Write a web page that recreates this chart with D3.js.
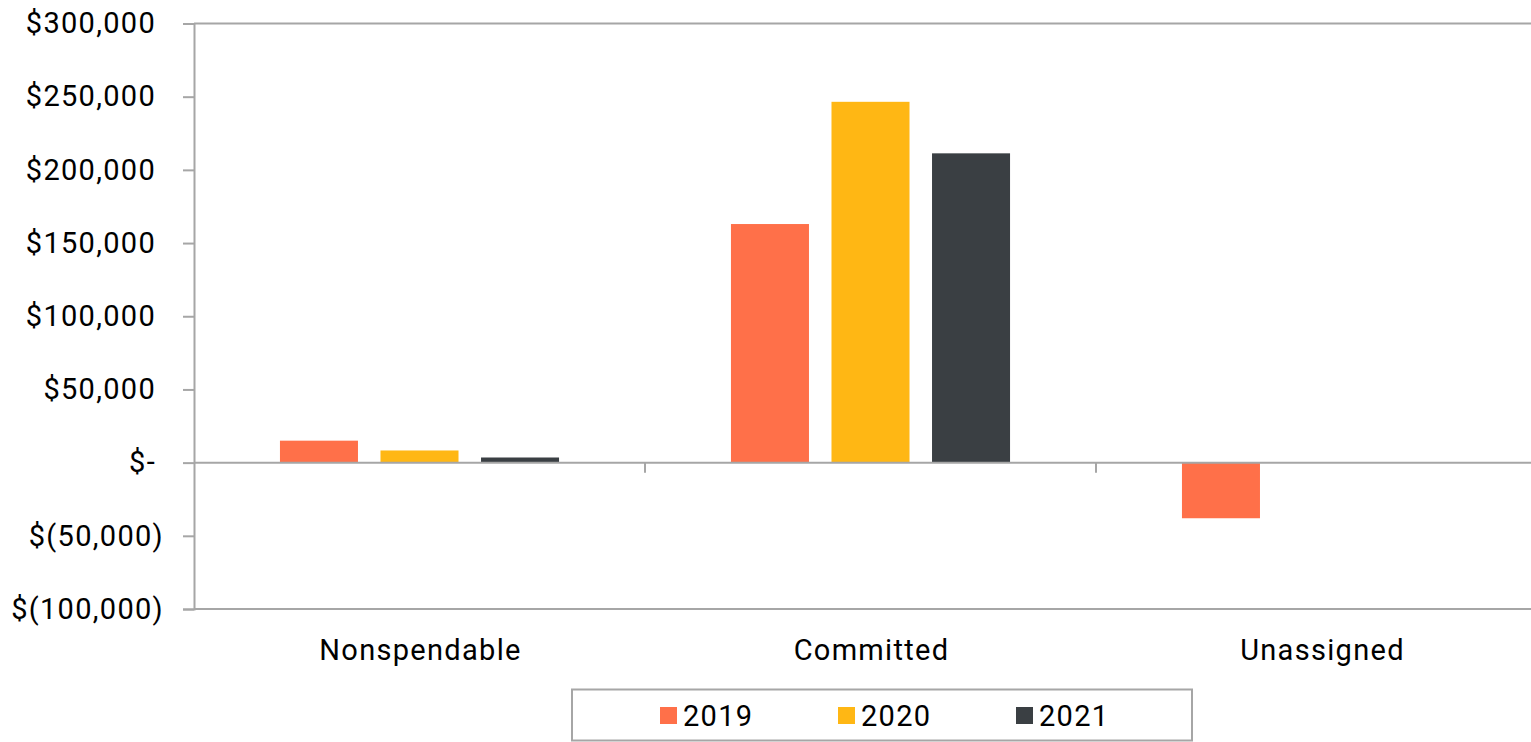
<!DOCTYPE html>
<html>
<head>
<meta charset="utf-8">
<script src="https://cdn.jsdelivr.net/npm/d3@7"></script>
<style>
  body { margin: 0; background: #fff; }
  svg { display: block; font-family: Roboto, "Noto Sans", sans-serif; }
  text { letter-spacing: 1.3px; }
</style>
</head>
<body>
<div class="canvas"></div>
<script>
/**
 * Data
 */
const categories = ["Nonspendable", "Committed", "Unassigned"]
const years = ["2019", "2020", "2021"]
const values2019 = [15000, 163000, -38000]
const values2020 = [8300, 246500, 0]
const values2021 = [3500, 211300, 0]
const yTicks = [-100000, -50000, 0, 50000, 100000, 150000, 200000, 250000, 300000]

const series = [values2019, values2020, values2021]
const colors = ["#FF7049", "#FFB714", "#3A3F43"]

/**
 * Dimension setup
 */
const dims = { width: 1531, height: 742 }
const plot = { left: 194, right: 1547, top: 23.5, bottom: 609 }
const gridColor = "#a6a6a6"
const fontSize = 29

const svg = d3.select(".canvas")
    .append("svg")
    .attr("width", dims.width)
    .attr("height", dims.height)

/**
 * Scales
 */
const y = d3.scaleLinear()
    .domain([-100000, 300000])
    .range([plot.bottom, plot.top])

const x = d3.scaleBand()
    .domain(categories)
    .range([plot.left, plot.right])

const xInner = d3.scaleBand()
    .domain(years)
    .range([0, x.bandwidth()])
    .paddingInner(0.224)
    .paddingOuter(0.855)

/**
 * Border lines (top and bottom of plot area)
 */
svg.selectAll("line.border")
    .data([300000, -100000])
    .enter()
    .append("line")
        .attr("class", "border")
        .attr("x1", plot.left)
        .attr("x2", plot.right)
        .attr("y1", d => y(d))
        .attr("y2", d => y(d))
        .attr("stroke", gridColor)
        .attr("stroke-width", 2)

/**
 * Bars
 */
const groups = svg.selectAll("g.series")
    .data(series)
    .enter()
    .append("g")
        .attr("class", "series")
        .attr("fill", (d, i) => colors[i])

groups.each(function(vals, si) {
    d3.select(this).selectAll("rect")
        .data(vals)
        .enter()
        .append("rect")
            .attr("x", (d, ci) => x(categories[ci]) + xInner(years[si]))
            .attr("width", xInner.bandwidth())
            .attr("y", d => y(Math.max(0, d)))
            .attr("height", d => Math.abs(y(d) - y(0)))
})

/**
 * Y axis
 */
const fmt = v => {
    if (v === 0) return "$-"
    const s = d3.format(",")(Math.abs(v))
    return v < 0 ? `$(${s})` : `$${s}`
}

const yAxis = svg.append("g")
    .attr("transform", `translate(${plot.left},0)`)
    .call(d3.axisLeft(y).tickValues(yTicks).tickSize(11).tickFormat(fmt))

yAxis.select(".domain").attr("stroke", gridColor).attr("stroke-width", 2)
yAxis.selectAll(".tick line").attr("stroke", gridColor).attr("stroke-width", 2)
yAxis.selectAll(".tick text")
    .attr("font-size", fontSize)
    .attr("font-family", "Roboto, sans-serif")
    .attr("fill", "#000")
    .attr("x", -30)
    .attr("dx", d => d >= 0 ? -8 : 0)

/**
 * X axis on zero line
 */
const xAxis = svg.append("g")
    .attr("transform", `translate(0,${y(0)})`)

xAxis.append("line")
    .attr("x1", plot.left)
    .attr("x2", plot.right)
    .attr("stroke", gridColor)
    .attr("stroke-width", 2)

xAxis.selectAll("line.tick")
    .data(categories.slice(1))
    .enter()
    .append("line")
        .attr("class", "tick")
        .attr("x1", d => x(d))
        .attr("x2", d => x(d))
        .attr("y1", 0)
        .attr("y2", 10)
        .attr("stroke", gridColor)
        .attr("stroke-width", 2)

svg.selectAll("text.cat")
    .data(categories)
    .enter()
    .append("text")
        .attr("class", "cat")
        .attr("x", d => x(d) + x.bandwidth() / 2 + 1)
        .attr("y", 660)
        .attr("text-anchor", "middle")
        .attr("font-size", fontSize)
        .attr("fill", "#000")
        .text(d => d)

/**
 * Legend
 */
const legendGroup = svg.append("g")

legendGroup.append("rect")
    .attr("x", 572)
    .attr("y", 689.5)
    .attr("width", 620)
    .attr("height", 51)
    .attr("fill", "#fff")
    .attr("stroke", gridColor)
    .attr("stroke-width", 2)

const legendItems = legendGroup.selectAll("g.item")
    .data(years)
    .enter()
    .append("g")
        .attr("class", "item")
        .attr("transform", (d, i) => `translate(${660 + i * 178},707)`)

legendItems.append("rect")
    .attr("width", 17)
    .attr("height", 17)
    .attr("fill", (d, i) => colors[i])

legendItems.append("text")
    .attr("x", 23)
    .attr("y", 18.5)
    .attr("font-size", fontSize)
    .attr("fill", "#000")
    .text(d => d)
</script>
</body>
</html>
